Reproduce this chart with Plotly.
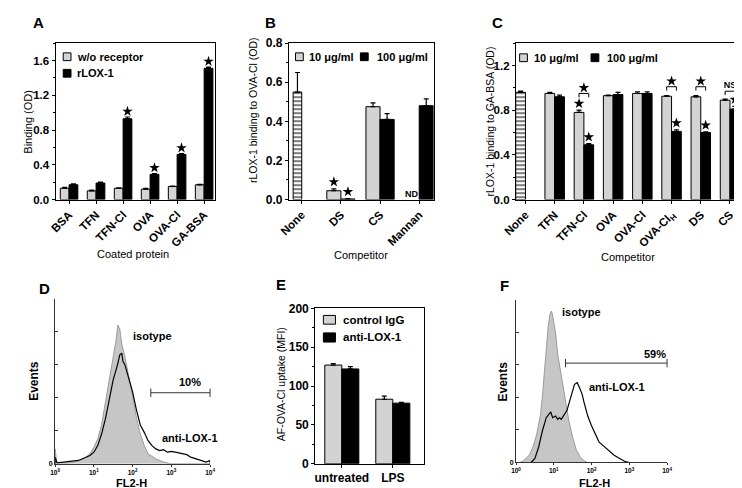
import plotly.graph_objects as go

W, H = 742, 488
FONT = "Liberation Sans, Arial, sans-serif"
LIGHT = "#d3d3d3"
ISO_FILL = "#c6c6c6"

# ---- A: binding to coated proteins
a_labels = ["BSA", "TFN", "TFN-Cl", "OVA", "OVA-Cl", "GA-BSA"]
a_without = [0.13, 0.10, 0.13, 0.12, 0.15, 0.17]
a_without_err = [0.01, 0.01, 0.005, 0.01, 0.005, 0.005]
a_rlox = [0.17, 0.19, 0.93, 0.29, 0.52, 1.51]
a_rlox_err = [0.01, 0.01, 0.02, 0.01, 0.01, 0.015]
a_signif = [False, False, True, True, True, True]

# ---- B: competition for OVA-Cl binding
b_labels = ["None", "DS", "CS", "Mannan"]
b_none = 0.55
b_none_err = 0.10
b_low = [None, 0.045, 0.475, None]          # Mannan 10 ug/ml: ND
b_low_err = [0, 0.01, 0.02, 0]
b_high = [None, 0.003, 0.41, 0.48]
b_high_err = [0, 0.002, 0.03, 0.035]
b_signif_low = [False, True, False, False]
b_signif_high = [False, True, False, False]

# ---- C: competition for GA-BSA binding
c_labels = ["None", "TFN", "TFN-Cl", "OVA", "OVA-Cl", "OVA-Cl<sub>H</sub>", "DS", "CS"]
c_none = 0.96
c_none_err = 0.01
c_low = [None, 0.95, 0.78, 0.93, 0.95, 0.925, 0.92, 0.89]
c_low_err = [0, 0.01, 0.02, 0.005, 0.015, 0.005, 0.01, 0.01]
c_high = [None, 0.92, 0.49, 0.94, 0.95, 0.61, 0.60, 0.81]
c_high_err = [0, 0.015, 0.01, 0.02, 0.015, 0.015, 0.005, 0.025]
c_signif_low = [False, False, True, False, False, False, False, False]
c_signif_high = [False, False, True, False, False, True, True, True]
c_bracket = [None, None, 0.95, None, None, 1.01, 1.01, 0.97]
c_bracket_mark = ["", "", "star", "", "", "star", "star", "NS"]

# ---- D: flow histogram, FL2-H vs events
d_iso_x = [1.0, 1.0, 1.1, 2.0, 3.16, 5.62, 7.94, 10.0, 12.6, 15.8, 20.0, 25.1, 31.6, 37.2,
           41.7, 46.8, 52.5, 63.1, 79.4, 100, 126, 158, 200, 251, 398, 631, 1000, 10000]
d_iso_y = [0, 18, 1, 1, 2, 6, 12, 20, 30, 47, 75, 102, 134, 149,
           168, 163, 145, 130, 106, 83, 55, 36, 22, 12, 6, 2, 0, 0]
d_lox_x = [1.0, 1.0, 1.12, 2.0, 3.98, 7.94, 10.0, 12.6, 15.8, 20.0, 25.1, 31.6, 39.8, 46.8,
           52.5, 56.2, 63.1, 79.4, 100, 126, 158, 200, 251, 316, 398, 501, 631, 794, 1000,
           1259, 1585, 1995, 2512, 3162, 5012, 7943, 10000, 10000]
d_lox_y = [0, 8, 1, 2, 4, 10, 14, 22, 36, 55, 79, 102, 118, 132,
           134, 124, 120, 102, 87, 65, 47, 38, 28, 22, 18, 16, 17, 14, 15,
           14, 13, 12, 11, 8, 5, 2, 4, 0]
d_gate_x = [295, 10000]
d_gate_y = [86, 86]

# ---- E: uptake
e_labels = ["untreated", "LPS"]
e_ctrl = [127, 83]
e_ctrl_err = [2, 4]
e_anti = [122, 78]
e_anti_err = [3, 1]

# ---- F: flow histogram
f_iso_x = [1.26, 1.58, 2.24, 2.82, 3.55, 4.47, 5.01, 5.62, 6.31, 7.08, 7.94, 8.71, 9.55, 11.2,
           12.6, 15.8, 20.0, 25.1, 31.6, 39.8, 50.1, 63.1, 79.4]
f_iso_y = [0, 2, 9, 19, 35, 59, 82, 110, 138, 166, 182, 186, 178, 158,
           134, 106, 78, 51, 31, 15, 7, 2, 0]
f_lox_x = [2.51, 3.16, 3.98, 5.01, 6.31, 7.41, 8.32, 9.33, 11.2, 12.6, 14.1, 15.8, 20.0, 22.4,
           25.1, 28.2, 31.6, 35.5, 41.7, 47.9, 56.2, 63.1, 79.4, 100, 126, 158, 200, 251,
           316, 398, 501, 631, 794, 1000]
f_lox_y = [0, 5, 19, 39, 55, 60, 62, 55, 57, 53, 55, 53, 60, 64,
           72, 82, 88, 96, 98, 92, 84, 74, 57, 45, 35, 25, 21, 17,
           12, 9, 6, 3, 1, 0]
f_gate_x = [20.5, 10000]
f_gate_y = [122, 122]


def px(x):
    return x / W


def py(y):
    return 1 - y / H


def err(values, errors):
    return dict(type="data", array=errors, arrayminus=[0] * len(errors), symmetric=False,
                color="black", thickness=1.2, width=2.5)


def add_pair(fig, ax, low, low_err, high, high_err, width, low_name, high_name):
    pos = list(range(len(low)))
    fig.add_trace(go.Bar(x=pos, y=low, width=width, offset=-width, name=low_name,
                         marker=dict(color=LIGHT, line=dict(color="black", width=1)),
                         error_y=err(low, low_err), xaxis="x" + ax, yaxis="y" + ax))
    fig.add_trace(go.Bar(x=pos, y=high, width=width, offset=0, name=high_name,
                         marker=dict(color="black", line=dict(color="black", width=1)),
                         error_y=err(high, high_err), xaxis="x" + ax, yaxis="y" + ax))


def add_none(fig, ax, value, error, width):
    fig.add_trace(go.Bar(x=[0], y=[value], width=width, offset=-width,
                         marker=dict(color="white", line=dict(color="black", width=1),
                                     pattern=dict(shape="-", fgcolor="black", bgcolor="white",
                                                  size=4, solidity=0.5)),
                         error_y=err([value], [error]), xaxis="x" + ax, yaxis="y" + ax))


def add_stars(fig, ax, xs, ys):
    fig.add_trace(go.Scatter(x=xs, y=ys, mode="markers", xaxis="x" + ax, yaxis="y" + ax,
                             cliponaxis=False,
                             marker=dict(symbol="star", size=8, color="black", line=dict(width=0))))


def sig_stars(values, errors, flags, shift, pad):
    xs, ys = [], []
    for i, (v, e, f) in enumerate(zip(values, errors, flags)):
        if f:
            xs.append(i + shift)
            ys.append(v + e + pad)
    return xs, ys


fig = go.Figure()

# A
wa = 0.325
add_pair(fig, "", a_without, a_without_err, a_rlox, a_rlox_err, wa, "w/o receptor", "rLOX-1")
add_stars(fig, "", *sig_stars(a_rlox, a_rlox_err, a_signif, wa / 2, 0.065))

# B
wb = 0.36
add_none(fig, "2", b_none, b_none_err, 0.22)
add_pair(fig, "2", b_low, b_low_err, b_high, b_high_err, wb, "10 μg/ml", "100 μg/ml")
xs1, ys1 = sig_stars([v or 0 for v in b_low], b_low_err, b_signif_low, -wb / 2, 0.035)
xs2, ys2 = sig_stars([v or 0 for v in b_high], b_high_err, b_signif_high, wb / 2, 0.035)
add_stars(fig, "2", xs1 + xs2, ys1 + ys2)

# C
wc = 0.333
add_none(fig, "3", c_none, c_none_err, wc)
add_pair(fig, "3", c_low, c_low_err, c_high, c_high_err, wc, "10 μg/ml", "100 μg/ml")
xs1, ys1 = sig_stars([v or 0 for v in c_low], c_low_err, c_signif_low, -wc / 2, 0.06)
xs2, ys2 = sig_stars([v or 0 for v in c_high], c_high_err, c_signif_high, wc / 2, 0.06)
bx, by, sx, sy, tx, ty = [], [], [], [], [], []
for i, (lvl, mark) in enumerate(zip(c_bracket, c_bracket_mark)):
    if lvl is None:
        continue
    bx += [i - wc / 2, i - wc / 2, i + wc / 2, i + wc / 2, None]
    by += [lvl - 0.035, lvl, lvl, lvl - 0.035, None]
    if mark == "star":
        sx.append(i)
        sy.append(lvl + 0.05)
    else:
        tx.append(i)
        ty.append(lvl + 0.05)
fig.add_trace(go.Scatter(x=bx, y=by, mode="lines", line=dict(color="black", width=1),
                         xaxis="x3", yaxis="y3"))
add_stars(fig, "3", xs1 + xs2 + sx, ys1 + ys2 + sy)
fig.add_trace(go.Scatter(x=tx, y=ty, mode="text", text=["NS"] * len(tx), xaxis="x3", yaxis="y3",
                         cliponaxis=False,
                         textfont=dict(family=FONT, size=9, color="black", weight="bold")))

# D
fig.add_trace(go.Scatter(x=d_iso_x, y=d_iso_y, mode="lines", fill="tozeroy", fillcolor=ISO_FILL,
                         line=dict(color="#9a9a9a", width=1), xaxis="x4", yaxis="y4"))
fig.add_trace(go.Scatter(x=d_lox_x, y=d_lox_y, mode="lines", line=dict(color="black", width=1.2),
                         xaxis="x4", yaxis="y4"))
fig.add_trace(go.Scatter(x=d_gate_x, y=d_gate_y, mode="lines+markers", xaxis="x4", yaxis="y4",
                         line=dict(color="#333", width=1), cliponaxis=False,
                         marker=dict(symbol="line-ns", size=6, line=dict(color="#333", width=1))))

# E
we = 0.334
add_pair(fig, "5", e_ctrl, e_ctrl_err, e_anti, e_anti_err, we, "control IgG", "anti-LOX-1")

# F
fig.add_trace(go.Scatter(x=f_iso_x, y=f_iso_y, mode="lines", fill="tozeroy", fillcolor=ISO_FILL,
                         line=dict(color="#9a9a9a", width=1), xaxis="x6", yaxis="y6"))
fig.add_trace(go.Scatter(x=f_lox_x, y=f_lox_y, mode="lines", line=dict(color="black", width=1.2),
                         xaxis="x6", yaxis="y6"))
fig.add_trace(go.Scatter(x=f_gate_x, y=f_gate_y, mode="lines+markers", xaxis="x6", yaxis="y6",
                         line=dict(color="#333", width=1), cliponaxis=False,
                         marker=dict(symbol="line-ns", size=6, line=dict(color="#333", width=1))))


def bar_x(x0, x1, rng, labels, anchor, angle=-45, size=11.5):
    return dict(domain=[px(x0), px(x1)], range=rng, anchor=anchor,
                tickvals=list(range(len(labels))), ticktext=labels, tickangle=angle,
                showline=True, linecolor="black", linewidth=1.2, mirror=True,
                ticks="outside", ticklen=3, tickcolor="black", showgrid=False, zeroline=False,
                tickfont=dict(family=FONT, size=size, color="black", weight="bold"))


def bar_y(y0, y1, rng, dtick, fmt, anchor, size=12):
    return dict(domain=[py(y1), py(y0)], range=rng, anchor=anchor, dtick=dtick, tickformat=fmt,
                showline=True, linecolor="black", linewidth=1.2, mirror=True,
                ticks="outside", ticklen=3, tickcolor="black", showgrid=False, zeroline=False,
                minor=dict(ticks="outside", ticklen=2, dtick=dtick / 2, tickcolor="black"),
                tickfont=dict(family=FONT, size=size, color="black", weight="bold"))


def flow_x(x0, x1, anchor):
    return dict(domain=[px(x0), px(x1)], type="log", range=[0, 4], anchor=anchor,
                tickvals=[1, 10, 100, 1000, 10000],
                ticktext=["10<sup>%d</sup>" % k for k in range(5)],
                showline=True, linecolor="#333", linewidth=1, ticks="outside", ticklen=2,
                tickcolor="#333", showgrid=False, zeroline=False,
                tickfont=dict(family=FONT, size=6.5, color="black", weight="bold"))


def flow_y(y0, y1, anchor):
    return dict(domain=[py(y1), py(y0)], range=[0, 200], anchor=anchor,
                tickvals=[0], ticktext=["0"],
                showline=True, linecolor="#333", linewidth=1, ticks="inside", ticklen=3,
                tickcolor="#333", showgrid=False, zeroline=False,
                minor=dict(ticks="inside", ticklen=3, dtick=40, tickcolor="#333"),
                tickfont=dict(family=FONT, size=7, color="black", weight="bold"))


annotations = []
shapes = []


def text(x, y, s, size=11, bold=False, angle=0, xanchor="center"):
    annotations.append(dict(x=px(x), y=py(y), xref="paper", yref="paper", text=s,
                            showarrow=False, textangle=angle, xanchor=xanchor, yanchor="middle",
                            font=dict(family=FONT, size=size, color="black",
                                      weight="bold" if bold else "normal")))


def legend(entries):
    for label, color, x0, y0, x1, y1, tx, size in entries:
        shapes.append(dict(type="rect", xref="paper", yref="paper", x0=px(x0), x1=px(x1),
                           y0=py(y1), y1=py(y0), fillcolor=color,
                           line=dict(color="black", width=1)))
        text(tx, (y0 + y1) / 2, label, size=size, bold=True, xanchor="left")


# panel letters
for letter, x, y in [("A", 17, 8), ("B", 255, 8), ("C", 488, 8),
                     ("D", 23, 282), ("E", 266, 277), ("F", 495, 278)]:
    text(x, y, letter, size=15, bold=True)

# axis titles
text(6, 110, "Binding (OD)", angle=-90)
text(114, 246, "Coated protein")
text(237, 98, "rLOX-1 binding to OVA-Cl (OD)", size=10.5, angle=-90)
text(348, 247, "Competitor")
text(480, 110, "rLOX-1 binding to GA-BSA (OD)", size=10.5, angle=-90)
text(622, 249, "Competitor")
text(13, 377, "Events", size=12, bold=True, angle=-90)
text(112, 481.5, "FL2-H", size=11, bold=True)
text(266, 380, "AF-OVA-Cl uptake (MFI)", size=10.5, angle=-90)
text(494, 377, "Events", size=12, bold=True, angle=-90)
text(588, 481.5, "FL2-H", size=11, bold=True)

# histogram labels
text(112, 330, "isotype", bold=True, xanchor="left")
text(172, 378, "10%", bold=True)
text(172, 435, "anti-LOX-1", bold=True)
text(552, 306, "isotype", bold=True, xanchor="left")
text(650, 349, "59%", bold=True)
text(611, 383, "anti-LOX-1", bold=True)

# ND label in B
annotations.append(dict(x=3 - wb / 2, y=0.03, xref="x2", yref="y2", text="ND", showarrow=False,
                        font=dict(family=FONT, size=9, color="black", weight="bold")))

legend([("w/o receptor", LIGHT, 42.3, 39, 50.3, 47, 54.5, 11),
        ("rLOX-1", "black", 42.3, 56, 50.3, 64, 54.5, 11),
        ("10 μg/ml", LIGHT, 280.7, 39, 288.7, 47, 292.7, 11),
        ("100 μg/ml", "black", 347.3, 39, 355.3, 47, 362.7, 11),
        ("10 μg/ml", LIGHT, 510.7, 40, 518.7, 48, 523.3, 11),
        ("100 μg/ml", "black", 584, 40, 592, 48, 598.3, 11),
        ("control IgG", LIGHT, 309.3, 309.3, 321.7, 318.3, 327.3, 11.5),
        ("anti-LOX-1", "black", 309.3, 327.3, 321.7, 336.7, 327.3, 11.5)])

fig.update_layout(
    width=W, height=H, margin=dict(l=0, r=0, t=0, b=0),
    paper_bgcolor="white", plot_bgcolor="white", showlegend=False, barmode="overlay",
    xaxis=bar_x(34.5, 198, [-0.498, 5.40], a_labels, "y"),
    yaxis=bar_y(29, 190, [0, 1.8], 0.4, ".1f", "x", size=11.5),
    xaxis2=bar_x(274, 422.5, [-0.326, 3.37], b_labels, "y2"),
    yaxis2=bar_y(29, 190, [0, 0.8], 0.2, ".1f", "x2"),
    xaxis3=bar_x(507, 738, [-0.323, 7.38], c_labels, "y3"),
    yaxis3=bar_y(29, 190, [0, 1.4], 0.4, ".1f", "x3", size=11.5),
    xaxis4=flow_x(34, 193, "y4"),
    yaxis4=flow_y(292, 462, "x4"),
    xaxis5=bar_x(301, 413, [-0.52, 1.62], e_labels, "y5", angle=0, size=12),
    yaxis5=bar_y(302, 462, [0, 200], 50, "d", "x5"),
    xaxis6=flow_x(507, 662, "y6"),
    yaxis6=flow_y(293, 460.7, "x6"),
    annotations=annotations,
    shapes=shapes,
)

fig.write_html("out.html")
